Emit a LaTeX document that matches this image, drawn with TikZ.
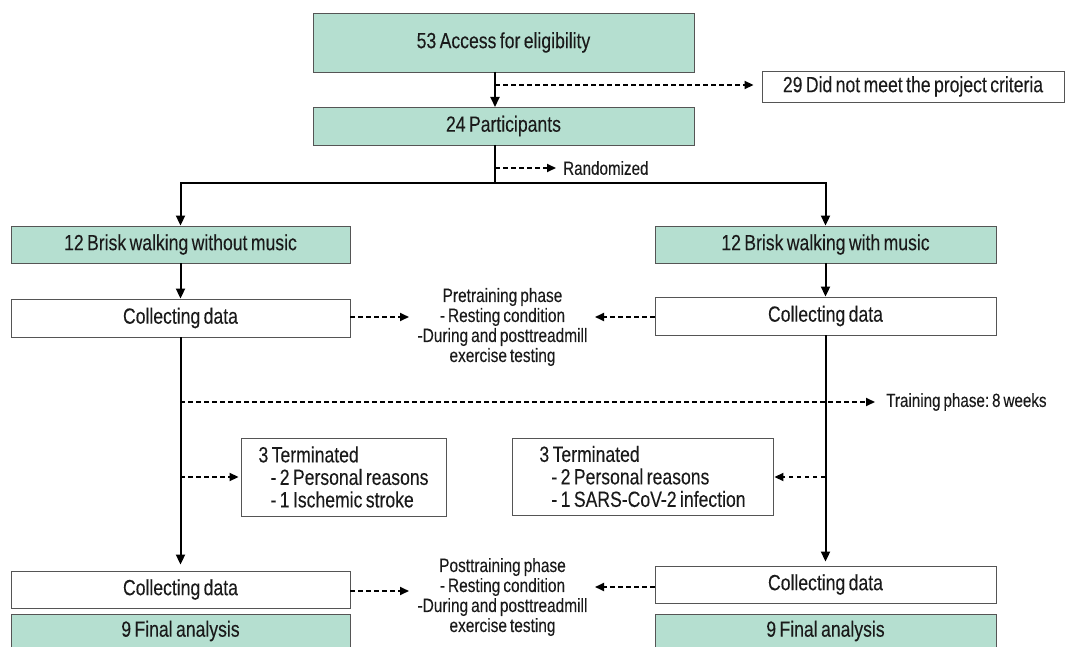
\documentclass[tikz,border=0pt]{standalone}
\usepackage{fontspec}
\setmainfont[FakeStretch=0.8, WordSpace=0.7, FakeBold=0.12]{Liberation Sans}
\frenchspacing
\usetikzlibrary{arrows.meta}
\definecolor{boxgreen}{HTML}{B5DFD0}
\definecolor{edge}{HTML}{555555}
\definecolor{ink}{HTML}{1A1A1A}
\tikzset{
  box/.style={draw=edge, line width=0.9pt, rectangle, inner sep=0pt, text=ink,
    font=\fontsize{22}{22.5}\selectfont},
  gbox/.style={box, fill=boxgreen},
  wbox/.style={box, fill=white},
  side/.style={text=ink, font=\fontsize{19.3}{20}\selectfont, align=center, inner sep=0pt},
  small/.style={text=ink, font=\fontsize{19}{20}\selectfont, inner sep=0pt, anchor=west},
  solidarrow/.style={line width=2pt, -{Triangle[length=10pt,width=9pt]}},
  solidline/.style={line width=2pt},
  dasharrow/.style={line width=1.8pt, dash pattern=on 4.5pt off 3.5pt, -{Triangle[length=9pt,width=8pt]}},
}
\begin{document}
\begin{tikzpicture}[x=1pt,y=-1pt]
\useasboundingbox (0,0) rectangle (1078,647);
\clip (0,0) rectangle (1078,647);
% top
\node[gbox, minimum width=381pt, minimum height=59pt] (A) at (503.5,42.5) {53 Access for eligibility};
\node[gbox, minimum width=381pt, minimum height=38pt] (B) at (503.5,126) {24 Participants};
\node[wbox, minimum width=302pt, minimum height=31pt] (C) at (913,86.5) {29 Did not meet the project criteria};
\coordinate (m1) at (495,72);
\coordinate (m2) at (495,107);
\coordinate (m3) at (495,85);
\draw[solidarrow] (m1) -- (m2);
\draw[dasharrow, shorten >=8pt] (m3) -- (C.west |- m3);
% randomized
\coordinate (b1) at (495,145);
\coordinate (b2) at (495,183);
\coordinate (r1) at (495,168);
\coordinate (r2) at (556,168);
\node[small] (R) at (563,168) {Randomized};
\draw[dasharrow] (r1) -- (r2);
% groups
\node[gbox, minimum width=339pt, minimum height=37pt] (D) at (180.5,244.5) {12 Brisk walking without music};
\node[gbox, minimum width=341pt, minimum height=37pt] (E) at (825.5,244.5) {12 Brisk walking with music};
\draw[solidline] (b1) -- (b2);
\draw[solidarrow] (b2) -| (D.north);
\draw[solidarrow] (b2) -| (E.north);
% collecting pre
\node[wbox, minimum width=339pt, minimum height=38pt] (F) at (180.5,318) {Collecting data};
\node[wbox, minimum width=341pt, minimum height=38pt] (G) at (825.5,316) {Collecting data};
\draw[solidarrow] (D.south) -- (F.north);
\draw[solidarrow] (E.south) -- (G.north);
\node[side] (P) at (502.5,327) {Pretraining phase\\- Resting condition\\-During and posttreadmill\\exercise testing};
\coordinate (pl) at (409,317);
\coordinate (pr) at (595,317);
\draw[dasharrow] (F.east |- pl) -- (pl);
\draw[dasharrow] (G.west |- pr) -- (pr);
% training
\coordinate (t1) at (180,402);
\coordinate (t2) at (875,402);
\node[small] (T) at (886,402) {Training phase: 8 weeks};
\draw[dasharrow] (t1) -- (t2);
% terminated
\node[wbox, minimum width=205pt, minimum height=78pt, align=left] (T1) at (343.5,477)
  {3 Terminated\\\hspace*{12pt}- 2 Personal reasons\\\hspace*{12pt}- 1 Ischemic stroke};
\node[wbox, minimum width=261pt, minimum height=77pt, align=left] (T2) at (642.5,476.5)
  {3 Terminated\\\hspace*{12pt}- 2 Personal reasons\\\hspace*{12pt}- 1 SARS-CoV-2 infection};
\coordinate (x1) at (180,477);
\coordinate (x2) at (825,477);
\draw[dasharrow, shorten >=2pt] (x1) -- (T1.west |- x1);
\draw[dasharrow, shorten >=1pt] (x2) -- (T2.east |- x2);
% collecting post
\node[wbox, minimum width=339pt, minimum height=37pt] (H) at (180.5,589.5) {Collecting data};
\node[wbox, minimum width=341pt, minimum height=37pt] (I) at (825.5,584.5) {Collecting data};
\draw[solidarrow, shorten >=6pt] (F.south) -- (H.north);
\draw[solidarrow, shorten >=4pt] (G.south) -- (I.north);
\node[side] (Q) at (502.5,597) {Posttraining phase\\- Resting condition\\-During and posttreadmill\\exercise testing};
\coordinate (ql) at (409,591);
\coordinate (qr) at (595,587);
\draw[dasharrow] (H.east |- ql) -- (ql);
\draw[dasharrow] (I.west |- qr) -- (qr);
% final
\node[gbox, minimum width=339pt, minimum height=34pt] (J) at (180.5,631) {9 Final analysis};
\node[gbox, minimum width=341pt, minimum height=34pt] (K) at (825.5,631) {9 Final analysis};
\end{tikzpicture}
\end{document}
